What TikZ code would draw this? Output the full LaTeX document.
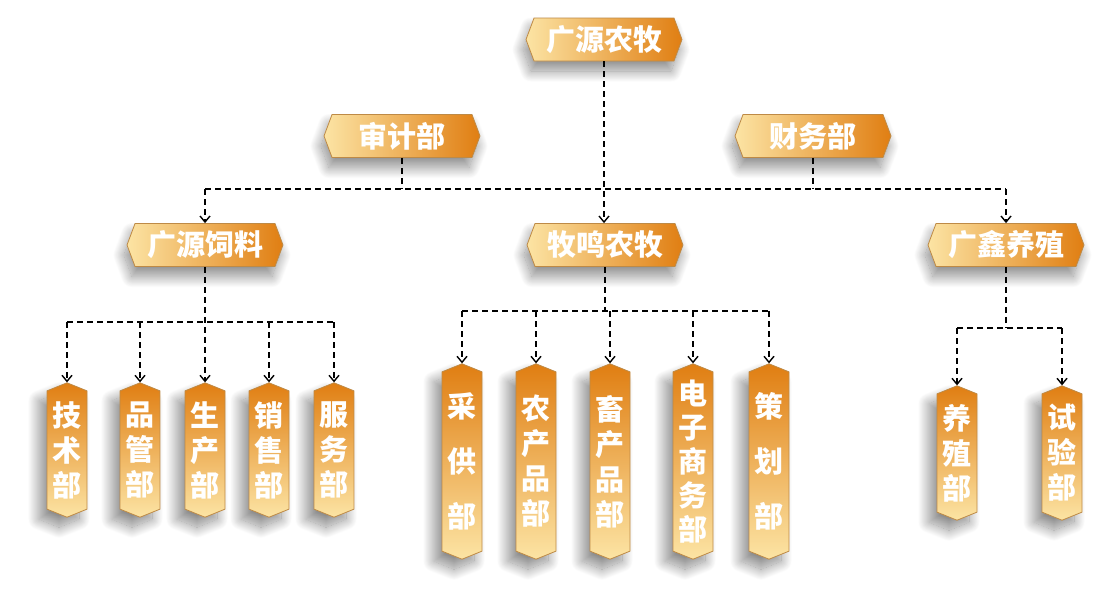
\documentclass[tikz,border=0pt]{standalone}
\usepackage{fontspec}
\setmainfont{Noto Sans CJK SC}
\usepackage{tikz}
\usetikzlibrary{shapes.symbols,arrows.meta,shadows.blur}

\definecolor{orlight}{HTML}{FCE4A4}
\definecolor{ormid}{HTML}{E8901E}
\definecolor{ordark}{HTML}{E07E12}
\definecolor{orline}{HTML}{BE8A46}

\begin{document}
\begin{tikzpicture}[x=1pt,y=-1pt,
    hsig/.style={signal, signal to=east and west, signal pointer angle=139,
      minimum width=156pt, minimum height=43pt, inner sep=0pt,
      left color=orlight, middle color=ormid, right color=ordark,
      draw=orline, line width=0.8pt, text=white,
      font=\bfseries\fontsize{29}{30}\selectfont,
      blur shadow={shadow xshift=-3pt, shadow yshift=-10pt, shadow blur radius=11pt,
        shadow blur steps=30, shadow opacity=45}},
    vsig/.style={signal, signal to=north and south, signal pointer angle=136,
      minimum width=40pt, minimum height=130pt, inner sep=0pt, align=center,
      top color=ordark, middle color=ormid!85!orlight, bottom color=orlight,
      draw=orline, line width=0.8pt, text=white,
      font=\bfseries\fontsize{29}{35}\selectfont,
      blur shadow={shadow xshift=-8pt, shadow yshift=-10pt, shadow blur radius=11pt,
        shadow blur steps=30, shadow opacity=45}},
    tall/.style={minimum height=191pt},
    link/.style={line width=1.4pt, dash pattern=on 6pt off 4pt},
    arr/.style={link, -{Straight Barb[length=6pt,width=10pt]}}]
  \useasboundingbox (0,0) rectangle (1119,605);

  % top levels
  \node[hsig] (gynm) at (604,39.5) {广源农牧};
  \node[hsig] (sjb) at (402,136) {审计部};
  \node[hsig] (cwb) at (813,136) {财务部};
  \node[hsig] (gysl) at (205,245) {广源饲料};
  \node[hsig] (mmnm) at (605,245) {牧鸣农牧};
  \node[hsig] (gxyz) at (1006,245) {广鑫养殖};

  % departments
  \node[vsig] (jsb) at (67,450) {技\\术\\部};
  \node[vsig] (pgb) at (140,450) {品\\管\\部};
  \node[vsig] (scb) at (205,450) {生\\产\\部};
  \node[vsig] (xsb) at (269,450) {销\\售\\部};
  \node[vsig] (fwb) at (334,450) {服\\务\\部};

  \node[vsig,tall,font=\bfseries\fontsize{29}{55}\selectfont] (cgb) at (462,461.5) {采\\供\\部};
  \node[vsig,tall] (ncpb) at (536,461.5) {农\\产\\品\\部};
  \node[vsig,tall] (xcpb) at (610,461.5) {畜\\产\\品\\部};
  \node[vsig,tall,font=\bfseries\fontsize{29}{34}\selectfont] (dzswb) at (693,461.5) {电\\子\\商\\务\\部};
  \node[vsig,tall,font=\bfseries\fontsize{29}{55}\selectfont] (chb) at (769,461.5) {策\\划\\部};

  \node[vsig] (yzb) at (957,453) {养\\殖\\部};
  \node[vsig] (syb) at (1062,453) {试\\验\\部};

  % bus lines
  \coordinate (b0) at (0,189);
  \coordinate (b1) at (0,322);
  \coordinate (b2) at (0,311);
  \coordinate (b3) at (0,328);

  \draw[arr] (gynm.south) -- (gynm.south |- mmnm.north);
  \draw[link] (sjb.south) -- (sjb.south |- b0);
  \draw[link] (cwb.south) -- (cwb.south |- b0);
  \draw[link] (gysl |- b0) -- (gxyz |- b0);
  \draw[arr] (gysl |- b0) -- (gysl.north);
  \draw[arr] (gxyz |- b0) -- (gxyz.north);

  \draw[link] (jsb |- b1) -- (fwb |- b1);
  \draw[arr] (gysl.south) -- (scb.north);
  \foreach \d in {jsb,pgb,xsb,fwb}
    \draw[arr] (\d |- b1) -- (\d.north);

  \draw[link] (cgb |- b2) -- (chb |- b2);
  \draw[link] (mmnm.south) -- (mmnm.south |- b2);
  \foreach \d in {cgb,ncpb,xcpb,dzswb,chb}
    \draw[arr] (\d |- b2) -- (\d.north);

  \draw[link] (yzb |- b3) -- (syb |- b3);
  \draw[link] (gxyz.south) -- (gxyz.south |- b3);
  \foreach \d in {yzb,syb}
    \draw[arr] (\d |- b3) -- (\d.north);
\end{tikzpicture}
\end{document}
